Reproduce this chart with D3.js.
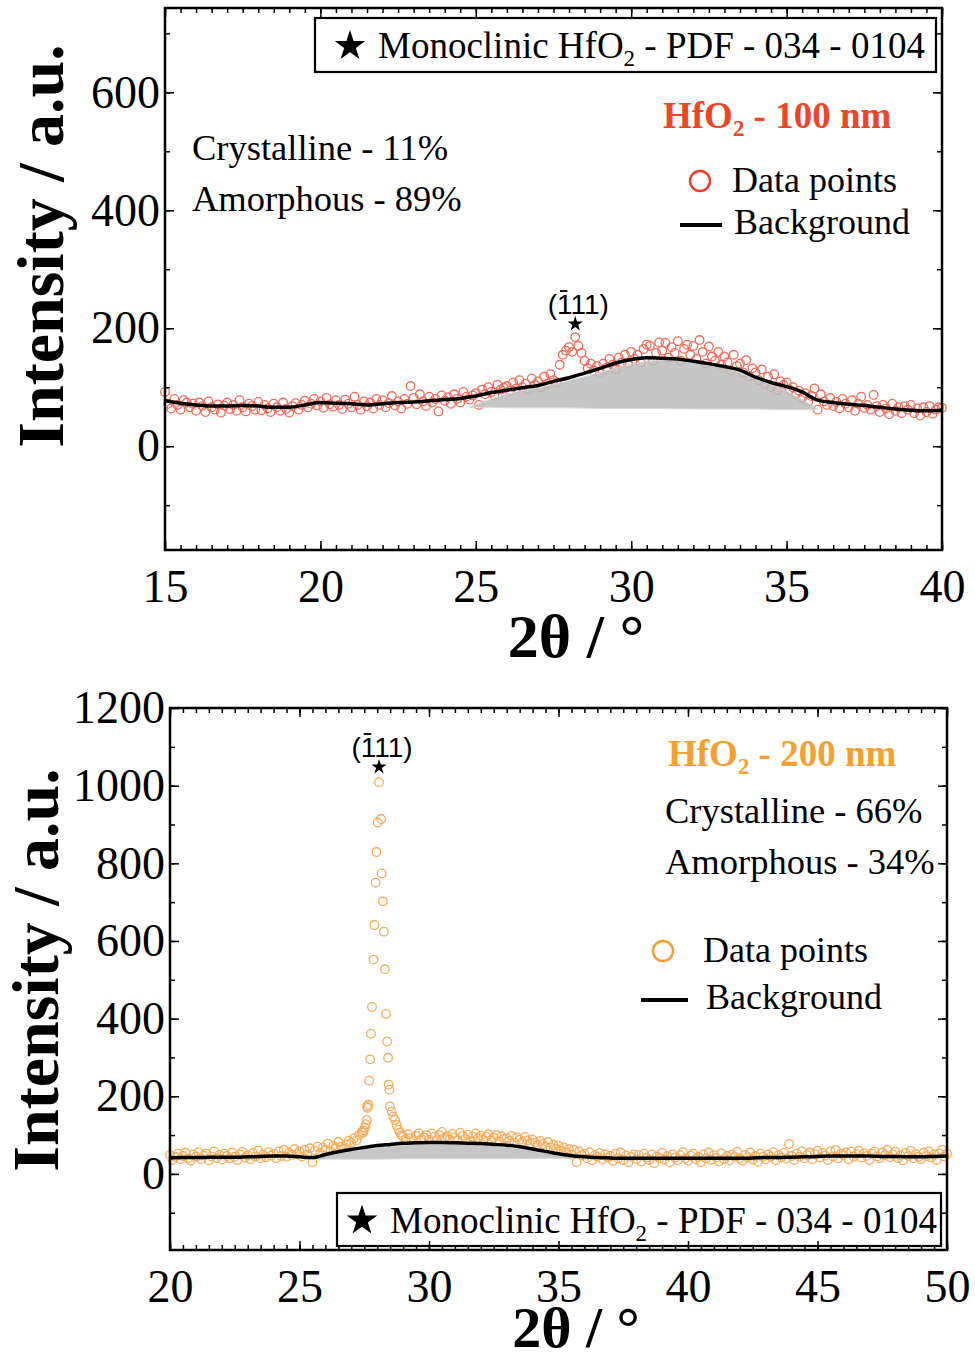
<!DOCTYPE html>
<html>
<head>
<meta charset="utf-8">
<script src="https://cdn.jsdelivr.net/npm/d3@7"></script>
<style>
  body { margin: 0; background: #fff; }
  text { font-family: "Liberation Serif", "Times New Roman", serif; }
</style>
</head>
<body>
<div id="wrap"></div>
<script>
// ---- HfO2 100 nm : measured points, 15.0 .. 40.0 every 0.1 deg
var top100Start = 15, top100Step = 0.1;
var top100 = [
  92, 72, 64, 80, 70, 62, 78, 74, 66, 72,
  60, 74, 68, 58, 76, 66, 62, 71, 57, 69,
  74, 63, 70, 60, 78, 66, 59, 72, 68, 62,
  75, 61, 70, 64, 58, 72, 66, 60, 74, 63,
  57, 68, 73, 62, 70, 77, 66, 72, 80, 69,
  76, 65, 82, 71, 67, 78, 70, 63, 79, 72,
  66, 84, 70, 62, 76, 68, 74, 64, 80, 70,
  78, 66, 73, 85, 69, 76, 64, 80, 72, 102,
  82, 71, 88, 76, 68, 84, 74, 80, 59, 86,
  77, 83, 72, 88, 80, 74, 92, 84, 79, 86,
  90, 70, 96, 88, 100, 92, 86, 104, 96, 99,
  102, 94, 108, 98, 112, 100, 106, 96, 115, 104,
  110, 100, 118, 106, 122, 112, 108, 138, 155, 162,
  168, 160, 185, 170, 158, 145, 132, 140, 128, 136,
  125, 140, 133, 148, 138, 130, 150, 142, 155, 140,
  160, 148, 155, 142, 165, 172, 170, 145, 158, 176,
  162, 175, 150, 168, 158, 178, 145, 165, 172, 155,
  170, 148, 180, 160, 140, 169, 152, 145, 160, 138,
  152, 142, 128, 155, 136, 140, 125, 146, 118, 132,
  125, 112, 130, 105, 118, 100, 122, 95, 110, 104,
  108, 96, 100, 88, 94, 82, 90, 76, 85, 98,
  62, 88, 76, 70, 82, 68, 75, 64, 80, 72,
  66, 78, 60, 72, 84, 65, 70, 62, 87, 68,
  58, 70, 64, 54, 72, 60, 66, 56, 68, 62,
  70, 56, 64, 52, 66, 58, 68, 55, 62, 66,
  65
];
// background line, every 0.5 deg
var top100BgStart = 15, top100BgStep = 0.5;
var top100Bg = [
  77, 73, 70, 68, 68, 69, 68, 66, 66, 70,
  74, 73, 72, 70, 72, 74, 75, 77, 79, 81,
  85, 91, 95, 99, 103, 110, 116, 124, 132, 141,
  147, 150, 149, 148, 144, 140, 135, 129, 117, 108,
  101, 92, 78, 74, 71, 69, 66, 63, 61, 60,
  61
];
// amorphous hump
var top100GrayX    = [24.8, 25.5, 26, 27, 28, 29, 30, 31, 32, 33, 34, 35, 36];
var top100GrayTop  = [66, 80, 88, 99, 111, 125, 139, 146, 144, 134, 114, 93, 63];
var top100GrayBase = [66, 66, 65, 65, 65, 64, 64, 64, 63, 63, 63, 62, 62];

// ---- HfO2 200 nm : measured points
var b200LeftStart = 20, b200Step = 0.1;
var b200Left = [
  48, 36, 44, 52, 38, 46, 55, 40, 34, 50,
  44, 56, 38, 47, 52, 35, 45, 58, 41, 49,
  37, 52, 46, 40, 55, 44, 36, 50, 57, 42,
  48, 38, 54, 45, 60, 40, 50, 43, 56, 47,
  52, 40, 58, 46, 62, 44, 55, 49, 64, 51,
  58, 45, 62, 50, 66, 30, 60, 70, 54, 68,
  62, 78, 58, 72, 66, 82, 70, 64, 76, 85,
  80, 92, 86, 100, 108
];
var b200Peak = [
  [27.45, 106], [27.48, 112], [27.52, 119], [27.56, 128], [27.6, 139], [27.61, 174],
  [27.63, 170], [27.66, 178], [27.69, 240], [27.73, 295], [27.76, 361], [27.8, 430],
  [27.86, 552], [27.89, 641], [27.94, 750], [27.97, 829], [28.02, 905], [28.07, 1009],
  [28.15, 914], [28.17, 774], [28.22, 702], [28.26, 624], [28.3, 527], [28.34, 412],
  [28.38, 341], [28.42, 299], [28.44, 230], [28.47, 217], [28.49, 174], [28.56, 161],
  [28.62, 148], [28.69, 139], [28.75, 126], [28.82, 114], [28.88, 106], [28.94, 100]
];
var b200RightStart = 29;
var b200Right = [
  96, 88, 102, 92, 85, 98, 105, 90, 94, 100,
  88, 104, 95, 86, 100, 108, 92, 97, 89, 103,
  94, 86, 106, 98, 90, 101, 84, 96, 104, 92,
  99, 88, 95, 102, 86, 93, 100, 84, 97, 90,
  92, 85, 98, 80, 94, 88, 82, 95, 86, 78,
  88, 80, 74, 85, 77, 70, 82, 68, 75, 64,
  72, 60, 68, 55, 64, 50, 62, 30, 58, 48,
  52, 40, 56, 35, 48, 44, 54, 38, 50, 42,
  46, 34, 52, 40, 55, 36, 47, 30, 44, 50,
  38, 48, 32, 52, 42, 36, 50, 28, 45, 40,
  54, 37, 46, 30, 50, 42, 35, 48, 56, 40,
  34, 47, 52, 38, 44, 30, 50, 40, 55, 36,
  48, 42, 32, 53, 38, 46, 35, 50, 44, 57,
  40, 34, 49, 43, 55, 37, 46, 31, 52, 44,
  38, 50, 45, 56, 35, 48, 42, 54, 40, 77,
  46, 36, 52, 44, 58, 40, 48, 55, 38, 50,
  60, 42, 54, 47, 36, 58, 45, 62, 40, 52,
  48, 55, 38, 57, 44, 50, 60, 42, 53, 46,
  36, 52, 58, 45, 40, 55, 48, 62, 43, 50,
  57, 41, 48, 35, 54, 46, 60, 40, 51, 44,
  38, 55, 46, 58, 42, 50, 36, 53, 62, 45,
  52
];
var b200BgStart = 20, b200BgStep = 0.5;
var b200Bg = [
  41, 42, 42, 43, 43, 43, 44, 45, 46, 46,
  44, 42, 50, 57, 63, 68, 73, 76, 79, 80,
  81, 81, 80, 79, 78, 76, 74, 70, 64, 58,
  52, 47, 44, 42, 41, 40, 40, 40, 40, 40,
  40, 40, 40, 40, 40, 41, 42, 42, 43, 44,
  45, 46, 46, 46, 46, 45, 45, 44, 44, 45,
  46
];
var b200GrayX    = [25.5, 26, 27, 28, 29, 30, 31, 32, 33, 34, 35, 35.6];
var b200GrayTop  = [40, 47, 58, 67, 73, 76, 76, 74, 69, 60, 48, 40];
var b200GrayBase = [38, 38, 38, 38, 39, 39, 39, 39, 39, 40, 40, 40];

// tick labels
var top100XTicks = [15, 20, 25, 30, 35, 40];
var top100YTicks = [0, 200, 400, 600];
var b200XTicks = [20, 25, 30, 35, 40, 45, 50];
var b200YTicks = [0, 200, 400, 600, 800, 1000, 1200];

var width = 975, height = 1357;
var svg = d3.select('#wrap').append('svg')
    .attr('width', width)
    .attr('height', height);

function series(start, step, vals) {
  return vals.map(function(v, i) { return [start + i * step, v]; });
}
function zip3(xs, a, b) {
  return xs.map(function(d, i) { return [d, a[i], b[i]]; });
}

function hfo2(t, after) {
  t.append('tspan').text('HfO');
  t.append('tspan').attr('font-size', '0.62em').attr('dy', 8).text('2');
  t.append('tspan').attr('dy', -8).text(after);
}

function drawPanel(p) {
  var x = d3.scaleLinear().domain(p.xDomain).range([p.left, p.right]),
      y = d3.scaleLinear().domain(p.yDomain).range([p.bottom, p.top]);
  var g = svg.append('g');

  // data points
  g.append('g').selectAll('circle')
    .data(p.points)
    .enter().append('circle')
      .attr('cx', function(d) { return x(d[0]); })
      .attr('cy', function(d) { return y(d[1]); })
      .attr('r', 4.3)
      .attr('fill', 'none')
      .attr('stroke', p.dotColor)
      .attr('stroke-width', 1.3);

  // amorphous part
  var area = d3.area()
    .x(function(d) { return x(d[0]); })
    .y0(function(d) { return y(d[2]); })
    .y1(function(d) { return y(d[1]); })
    .curve(d3.curveMonotoneX);
  g.append('path').datum(p.gray)
    .attr('d', area)
    .attr('fill', '#bcbcbc')
    .attr('fill-opacity', 0.85)
    .attr('stroke', '#d8d8d8')
    .attr('stroke-width', 1);

  // background line
  var line = d3.line()
    .x(function(d) { return x(d[0]); })
    .y(function(d) { return y(d[1]); })
    .curve(d3.curveMonotoneX);
  g.append('path').datum(p.bg)
    .attr('d', line)
    .attr('fill', 'none')
    .attr('stroke', '#000')
    .attr('stroke-width', 3.5);

  // axes, ticks pointing in
  var xMinor = d3.range(p.xDomain[0], p.xDomain[1] + 0.01, 0.5);
  var yMinor = d3.range(Math.ceil(p.yDomain[0] / 100) * 100, p.yDomain[1] + 1, 100);

  function styleAx(sel) {
    sel.select('.domain').remove();
    sel.selectAll('line').attr('stroke-width', 1.5);
    sel.selectAll('text').attr('font-size', 46);
  }
  g.append('g').attr('transform', 'translate(0,' + p.bottom + ')')
    .call(d3.axisBottom(x).tickValues(xMinor).tickSize(-5).tickFormat('')).call(styleAx);
  g.append('g').attr('transform', 'translate(0,' + p.bottom + ')')
    .call(d3.axisBottom(x).tickValues(p.xTicks).tickSize(-9).tickPadding(19).tickFormat(d3.format('d'))).call(styleAx);
  g.append('g').attr('transform', 'translate(0,' + p.top + ')')
    .call(d3.axisTop(x).tickValues(xMinor).tickSize(-5).tickFormat('')).call(styleAx);
  g.append('g').attr('transform', 'translate(0,' + p.top + ')')
    .call(d3.axisTop(x).tickValues(p.xTicks).tickSize(-9).tickFormat('')).call(styleAx);

  g.append('g').attr('transform', 'translate(' + p.left + ',0)')
    .call(d3.axisLeft(y).tickValues(yMinor).tickSize(-5).tickFormat('')).call(styleAx);
  g.append('g').attr('transform', 'translate(' + p.left + ',0)')
    .call(d3.axisLeft(y).tickValues(p.yTicks).tickSize(-9).tickPadding(5).tickFormat(d3.format('d'))).call(styleAx);
  g.append('g').attr('transform', 'translate(' + p.right + ',0)')
    .call(d3.axisRight(y).tickValues(yMinor).tickSize(-5).tickFormat('')).call(styleAx);
  g.append('g').attr('transform', 'translate(' + p.right + ',0)')
    .call(d3.axisRight(y).tickValues(p.yTicks).tickSize(-9).tickFormat('')).call(styleAx);

  g.append('rect')
    .attr('x', p.left).attr('y', p.top)
    .attr('width', p.right - p.left).attr('height', p.bottom - p.top)
    .attr('fill', 'none').attr('stroke', '#000').attr('stroke-width', 2.5);

  // axis titles
  g.append('text')
    .attr('x', 576).attr('y', p.xTitleY)
    .attr('text-anchor', 'middle')
    .attr('font-size', p.xTitleSize).attr('font-weight', 'bold')
    .text('2θ / °');
  g.append('text')
    .attr('transform', 'translate(' + p.yTitleX + ',' + p.yTitleY + ') rotate(-90)')
    .attr('text-anchor', 'middle')
    .attr('font-size', 66).attr('font-weight', 'bold')
    .text('Intensity / a.u.');

  // peak marker
  var px = x(p.peakX);
  g.append('path')
    .attr('d', d3.symbol(d3.symbolStar, 70)())
    .attr('transform', 'translate(' + px + ',' + p.starY + ')');
  var pl = g.append('text')
    .attr('x', px + 3).attr('y', p.starY - 10)
    .attr('text-anchor', 'middle')
    .style('font-family', '"Liberation Sans", Arial, sans-serif')
    .attr('font-size', 28)
    .text('(111)');
  var ext = pl.node().getExtentOfChar(1);
  g.append('line')
    .attr('x1', ext.x + 3).attr('x2', ext.x + ext.width - 3)
    .attr('y1', ext.y + 2).attr('y2', ext.y + 2)
    .attr('stroke', '#000').attr('stroke-width', 1.8);

  // reference box
  var b = p.refBox;
  g.append('rect')
    .attr('x', b.x).attr('y', b.y).attr('width', b.w).attr('height', b.h)
    .attr('fill', 'none').attr('stroke', '#000').attr('stroke-width', 2.2);
  g.append('path')
    .attr('d', d3.symbol(d3.symbolStar, 290)())
    .attr('transform', 'translate(' + (b.x + b.star) + ',' + (b.y + b.h / 2 + 1) + ')');
  var rt = g.append('text')
    .attr('x', b.x + b.text).attr('y', b.y + 40)
    .attr('font-size', 37);
  rt.append('tspan').text('Monoclinic ');
  hfo2(rt, ' - PDF - 034 - 0104');

  // sample name
  var st = g.append('text')
    .attr('x', p.name.x).attr('y', p.name.y)
    .attr('font-size', 37).attr('font-weight', 'bold')
    .attr('fill', p.nameColor);
  hfo2(st, ' - ' + p.name.label);

  // phase fractions
  g.append('text').attr('x', p.frac.x).attr('y', p.frac.y)
    .attr('font-size', 36.5).text('Crystalline - ' + p.frac.c + '%');
  g.append('text').attr('x', p.frac.x).attr('y', p.frac.y + 51)
    .attr('font-size', 36.5).text('Amorphous - ' + p.frac.a + '%');

  // legend
  var L = p.legend;
  g.append('circle').attr('cx', L.cx).attr('cy', L.cy).attr('r', 10)
    .attr('fill', 'none').attr('stroke', p.legendColor).attr('stroke-width', 2.5);
  g.append('text').attr('x', L.tx).attr('y', L.cy + 11)
    .attr('font-size', 36).text('Data points');
  g.append('line').attr('x1', L.lx1).attr('x2', L.lx2)
    .attr('y1', L.ly).attr('y2', L.ly)
    .attr('stroke', '#000').attr('stroke-width', 4);
  g.append('text').attr('x', L.tx2).attr('y', L.ly + 9)
    .attr('font-size', 36).text('Background');
}

drawPanel({
  left: 165, right: 942, top: 8, bottom: 550,
  xDomain: [15, 40], yDomain: [-176, 743],
  xTicks: top100XTicks, yTicks: top100YTicks,
  points: series(top100Start, top100Step, top100),
  bg: series(top100BgStart, top100BgStep, top100Bg),
  gray: zip3(top100GrayX, top100GrayTop, top100GrayBase),
  dotColor: '#f0695a',
  legendColor: '#ee3f2a',
  nameColor: '#ee4528',
  xTitleY: 657, xTitleSize: 62, yTitleX: 63, yTitleY: 246,
  peakX: 28.2, starY: 324,
  refBox: { x: 315, y: 18, w: 621, h: 54, star: 35, text: 63 },
  name: { x: 663, y: 128, label: '100 nm' },
  frac: { x: 192, y: 160, c: 11, a: 89 },
  legend: { cx: 700, cy: 181, tx: 732, lx1: 680, lx2: 722, ly: 225, tx2: 734 }
});

drawPanel({
  left: 170, right: 947, top: 708, bottom: 1250,
  xDomain: [20, 50], yDomain: [-196, 1200],
  xTicks: b200XTicks, yTicks: b200YTicks,
  points: series(b200LeftStart, b200Step, b200Left)
    .concat(b200Peak)
    .concat(series(b200RightStart, b200Step, b200Right)),
  bg: series(b200BgStart, b200BgStep, b200Bg),
  gray: zip3(b200GrayX, b200GrayTop, b200GrayBase),
  dotColor: '#f5ab5c',
  legendColor: '#f5a033',
  nameColor: '#f5a033',
  xTitleY: 1347, xTitleSize: 58, yTitleX: 58, yTitleY: 970,
  peakX: 28.07, starY: 767,
  refBox: { x: 337, y: 1193, w: 604, h: 53, star: 25, text: 53 },
  name: { x: 668, y: 766, label: '200 nm' },
  frac: { x: 665, y: 823, c: 66, a: 34 },
  legend: { cx: 663, cy: 951, tx: 703, lx1: 641, lx2: 688, ly: 1000, tx2: 706 }
});
</script>
</body>
</html>
